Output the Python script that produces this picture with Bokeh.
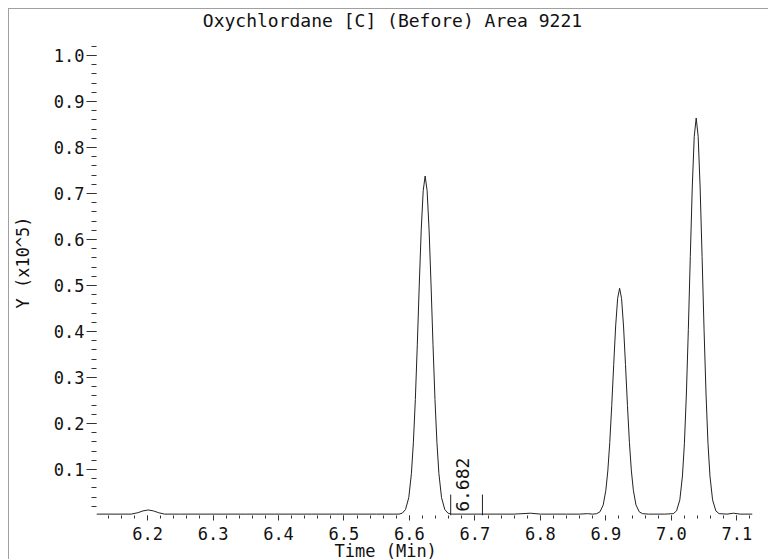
import numpy as np
from bokeh.plotting import figure
from bokeh.models import FixedTicker, Label, Range1d, Title
from bokeh.embed import file_html
from bokeh.resources import INLINE

# ---- data ----
time_min = [
    6.122, 6.150, 6.175, 6.185, 6.193, 6.201, 6.209, 6.217, 6.226, 6.250,
    6.350, 6.450, 6.550, 6.575, 6.584, 6.589, 6.594, 6.599, 6.603, 6.606,
    6.609, 6.612, 6.615, 6.618, 6.621, 6.624, 6.627, 6.630, 6.633, 6.636,
    6.639, 6.642, 6.645, 6.649, 6.654, 6.659, 6.664, 6.680, 6.720, 6.760,
    6.785, 6.800, 6.840, 6.860, 6.872, 6.880, 6.886, 6.891, 6.896, 6.900,
    6.903, 6.906, 6.909, 6.912, 6.915, 6.918, 6.921, 6.924, 6.927, 6.930,
    6.933, 6.936, 6.939, 6.942, 6.946, 6.951, 6.956, 6.965, 6.990, 7.003,
    7.008, 7.013, 7.017, 7.020, 7.023, 7.026, 7.029, 7.032, 7.035, 7.038,
    7.041, 7.044, 7.047, 7.050, 7.053, 7.056, 7.059, 7.063, 7.068, 7.073,
    7.085, 7.095, 7.105, 7.124,
]
intensity = [
    0.003, 0.003, 0.003, 0.006, 0.010, 0.012, 0.010, 0.006, 0.003, 0.003,
    0.003, 0.003, 0.003, 0.003, 0.003, 0.005, 0.013, 0.039, 0.091, 0.158,
    0.252, 0.371, 0.501, 0.621, 0.706, 0.738, 0.706, 0.621, 0.501, 0.371,
    0.252, 0.158, 0.091, 0.039, 0.013, 0.005, 0.003, 0.003, 0.003, 0.003,
    0.005, 0.003, 0.003, 0.003, 0.004, 0.003, 0.004, 0.008, 0.023, 0.055,
    0.097, 0.159, 0.239, 0.328, 0.412, 0.472, 0.494, 0.472, 0.412, 0.328,
    0.239, 0.159, 0.097, 0.055, 0.023, 0.008, 0.004, 0.003, 0.003, 0.004,
    0.010, 0.034, 0.086, 0.157, 0.264, 0.404, 0.563, 0.714, 0.824, 0.864,
    0.824, 0.714, 0.563, 0.404, 0.264, 0.157, 0.086, 0.034, 0.010, 0.004,
    0.003, 0.005, 0.003, 0.003,
]

# integration window marker
marker_x = [6.663, 6.7115]
marker_y0 = [0.0, 0.0]
marker_y1 = [0.0455, 0.0455]
marker_label = "6.682"

title_text = "Oxychlordane [C] (Before) Area 9221"
x_label = "Time (Min)"
y_label = "Y (x10^5)"

x_ticks = [6.2, 6.3, 6.4, 6.5, 6.6, 6.7, 6.8, 6.9, 7.0, 7.1]
x_tick_labels = ["6.2", "6.3", "6.4", "6.5", "6.6", "6.7", "6.8", "6.9", "7.0", "7.1"]
y_ticks = [0.1, 0.2, 0.3, 0.4, 0.5, 0.6, 0.7, 0.8, 0.9, 1.0]
y_tick_labels = ["0.1", "0.2", "0.3", "0.4", "0.5", "0.6", "0.7", "0.8", "0.9", "1.0"]

x_minor = [round(v, 2) for v in np.arange(6.14, 7.121, 0.02)]
y_minor = [round(v, 2) for v in np.arange(0.02, 1.021, 0.02)]

FONT = "DejaVu Sans Mono"
FS = "17px"
TXT = "#111111"

# plot area runs up to the top of the canvas; the title sits inside it,
# above the last y tick (no frame outline is drawn)
p = figure(width=760, height=551, output_backend="svg", toolbar_location=None,
           x_range=Range1d(6.122, 7.124), y_range=Range1d(0.0, 1.1),
           min_border_left=87, min_border_right=17, min_border_top=0,
           min_border_bottom=42, title=None)
p.margin = (8, 0, 0, 8)
p.styles = {"border-left": "1px solid #a0a0a0", "border-top": "1px solid #a0a0a0"}
p.outline_line_color = None
p.xgrid.visible = False
p.ygrid.visible = False
p.background_fill_color = "white"
p.border_fill_color = "white"

p.line(time_min, intensity, line_color="#222222", line_width=1)
p.segment(x0=marker_x, y0=marker_y0, x1=marker_x, y1=marker_y1,
          line_color="#222222", line_width=1)

# axes
xa = p.xaxis[0]
xa.ticker = FixedTicker(ticks=x_ticks, minor_ticks=x_minor)
xa.major_label_overrides = {t: l for t, l in zip(x_ticks, x_tick_labels)}
xa.axis_line_color = None
xa.major_tick_in = 0
xa.major_tick_out = 5
xa.minor_tick_in = 0
xa.minor_tick_out = 3
xa.major_tick_line_color = "#333333"
xa.minor_tick_line_color = "#333333"
xa.major_label_standoff = 6
xa.major_label_text_font = FONT
xa.major_label_text_font_size = FS
xa.major_label_text_color = TXT

ya = p.yaxis[0]
ya.ticker = FixedTicker(ticks=y_ticks, minor_ticks=y_minor)
ya.major_label_overrides = {t: l for t, l in zip(y_ticks, y_tick_labels)}
ya.axis_line_color = None
ya.major_tick_in = 0
ya.major_tick_out = 10
ya.minor_tick_in = 0
ya.minor_tick_out = 5
ya.major_tick_line_color = "#333333"
ya.minor_tick_line_color = "#333333"
ya.major_label_standoff = 2
ya.major_label_text_font = FONT
ya.major_label_text_font_size = FS
ya.major_label_text_color = TXT
ya.axis_label = y_label
ya.axis_label_standoff = 18
ya.axis_label_text_font = FONT
ya.axis_label_text_font_size = FS
ya.axis_label_text_font_style = "normal"
ya.axis_label_text_color = TXT

# title (centred on the whole canvas) and x label
p.add_layout(Label(x=6.5741, y=1.099, text=title_text, text_align="center",
                   text_baseline="top", text_font=FONT,
                   text_font_size="18px", text_color=TXT))

xt = Title(text=x_label, align="left", offset=238, vertical_align="top",
           text_font=FONT, text_font_size=FS, text_font_style="normal",
           text_color=TXT)
try:
    xt.standoff = -4
except Exception:
    xt.standoff = 0
    xa.major_label_standoff = 2
p.add_layout(xt, "below")

p.add_layout(Label(x=6.6803, y=0.008, text=marker_label, angle=np.pi / 2,
                   text_align="left", text_baseline="middle",
                   text_font=FONT, text_font_size="18px", text_color=TXT))

open("out.html", "w").write(file_html(p, INLINE))
